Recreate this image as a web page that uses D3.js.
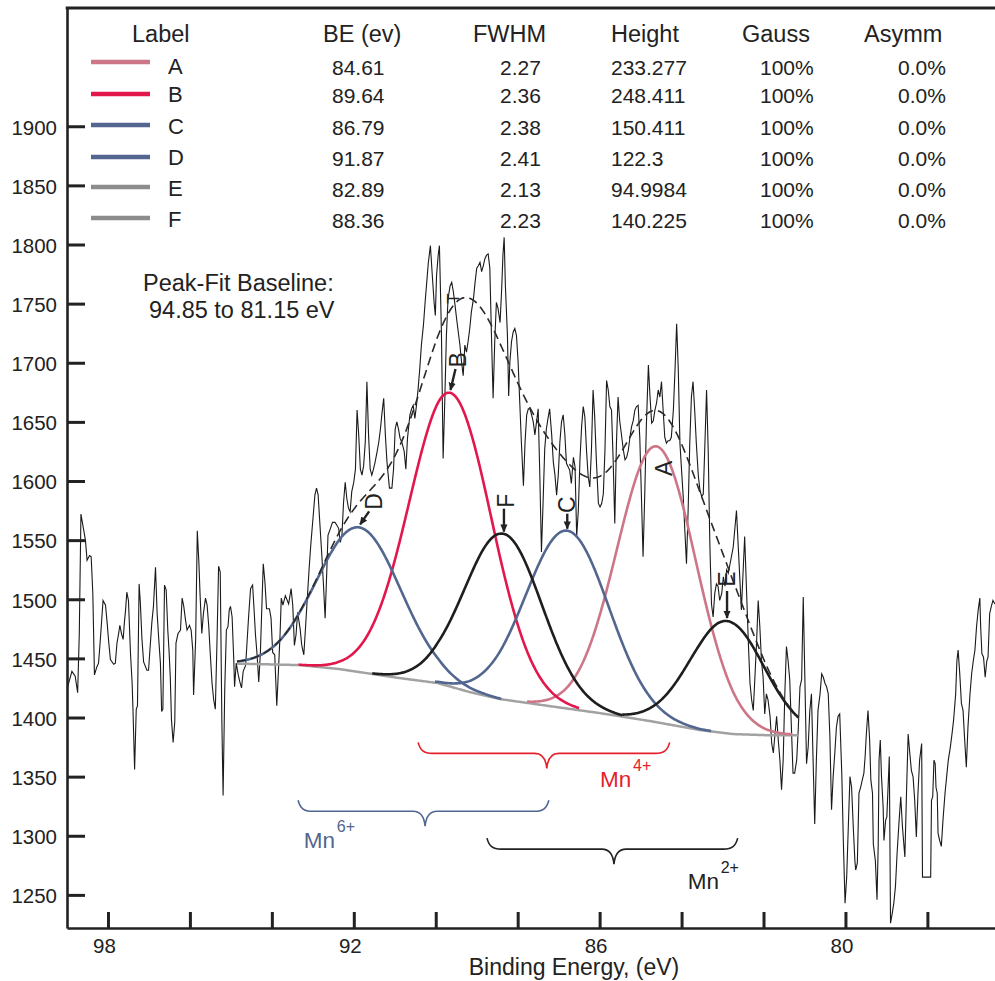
<!DOCTYPE html>
<html>
<head>
<meta charset="utf-8">
<script src="https://cdn.jsdelivr.net/npm/d3@7"></script>
<style>
body { margin: 0; background: #fff; }
svg { display: block; font-family: "Liberation Sans", Arial, sans-serif; }
</style>
</head>
<body>
<svg id="chart" width="995" height="981"></svg>
<script>
// Fitted peak table
var peakLabels = ["A", "B", "C", "D", "E", "F"];
var peakBE = [84.61, 89.64, 86.79, 91.87, 82.89, 88.36];
var peakFWHM = [2.27, 2.36, 2.38, 2.41, 2.13, 2.23];
var peakHeight = [233.277, 248.411, 150.411, 122.3, 94.9984, 140.225];
var peakGauss = ["100%", "100%", "100%", "100%", "100%", "100%"];
var peakAsymm = ["0.0%", "0.0%", "0.0%", "0.0%", "0.0%", "0.0%"];

// Energy window each component is drawn over
var peakFrom = [87.77, 93.35, 90.02, 94.85, 85.45, 91.55];
var peakTo = [81.30, 86.50, 83.28, 88.40, 81.15, 85.45];

// Shirley baseline
var baseEnergy = [94.85, 93.31, 92.34, 90.87, 89.95, 89.17, 88.43, 87.21, 85.99, 84.77, 83.55, 82.75, 81.97, 81.15];
var baseCounts = [1445.6, 1444.3, 1440.9, 1433.3, 1429.1, 1421.5, 1415.6, 1409.6, 1403.7, 1397.0, 1389.4, 1386.0, 1385.1, 1385.1];

// Axis ticks
var xTicks = [98, 96, 94, 92, 90, 88, 86, 84, 82, 80, 78];
var xTickLabels = [98, 92, 86, 80];
var yTicks = [1250, 1300, 1350, 1400, 1450, 1500, 1550, 1600, 1650, 1700, 1750, 1800, 1850, 1900];

// Raw spectrum [binding energy, counts]
var rawPoints = [
  [99.00,1424],[98.88,1439],[98.80,1435],[98.74,1421],[98.70,1471],[98.66,1572],[98.59,1558],[98.55,1550],
  [98.51,1533],[98.45,1537],[98.41,1536],[98.37,1505],[98.33,1436],[98.27,1443],[98.23,1446],[98.19,1464],
  [98.12,1499],[98.06,1495],[98.02,1480],[97.98,1463],[97.94,1449],[97.86,1445],[97.82,1446],[97.78,1463],
  [97.74,1471],[97.71,1478],[97.67,1471],[97.63,1466],[97.60,1480],[97.57,1491],[97.54,1506],[97.50,1499],
  [97.45,1454],[97.41,1429],[97.39,1407],[97.35,1356],[97.31,1407],[97.28,1410],[97.24,1513],[97.21,1497],
  [97.17,1466],[97.13,1447],[97.05,1440],[97.01,1440],[96.97,1460],[96.93,1480],[96.89,1494],[96.84,1527],
  [96.80,1488],[96.76,1466],[96.72,1446],[96.69,1405],[96.66,1407],[96.62,1512],[96.58,1508],[96.54,1474],
  [96.51,1457],[96.48,1435],[96.45,1398],[96.41,1379],[96.37,1396],[96.34,1463],[96.29,1471],[96.23,1474],
  [96.19,1501],[96.15,1494],[96.11,1483],[96.07,1474],[96.01,1478],[95.97,1474],[95.93,1457],[95.91,1419],
  [95.86,1466],[95.82,1558],[95.78,1530],[95.75,1502],[95.71,1471],[95.67,1488],[95.62,1501],[95.58,1495],
  [95.54,1477],[95.50,1452],[95.46,1429],[95.42,1415],[95.38,1407],[95.34,1463],[95.30,1528],[95.26,1523],
  [95.22,1396],[95.19,1334],[95.15,1424],[95.11,1474],[95.07,1477],[95.04,1491],[95.01,1494],[94.97,1485],
  [94.93,1449],[94.91,1426],[94.87,1446],[94.82,1436],[94.78,1430],[94.74,1425],[94.70,1439],[94.64,1444],
  [94.57,1484],[94.52,1509],[94.47,1512],[94.44,1495],[94.40,1470],[94.36,1453],[94.32,1430],[94.28,1455],
  [94.24,1498],[94.21,1530],[94.17,1515],[94.13,1492],[94.06,1492],[94.02,1484],[93.98,1455],[93.93,1453],
  [93.88,1410],[93.84,1439],[93.80,1470],[93.77,1501],[93.73,1495],[93.67,1503],[93.59,1496],[93.53,1509],
  [93.49,1495],[93.45,1461],[93.41,1470],[93.37,1489],[93.31,1475],[93.27,1461],[93.22,1453],[93.18,1475],
  [93.14,1498],[93.09,1526],[93.05,1546],[92.99,1571],[92.95,1588],[92.91,1594],[92.87,1588],[92.83,1565],
  [92.78,1537],[92.74,1512],[92.70,1484],[92.66,1523],[92.63,1554],[92.57,1560],[92.52,1565],[92.46,1565],
  [92.42,1563],[92.37,1560],[92.33,1548],[92.29,1554],[92.25,1582],[92.21,1599],[92.17,1585],[92.13,1577],
  [92.09,1574],[92.05,1591],[92.00,1599],[91.96,1610],[91.92,1660],[91.88,1639],[91.84,1610],[91.80,1605],
  [91.76,1613],[91.72,1633],[91.68,1684],[91.64,1639],[91.60,1610],[91.56,1605],[91.52,1610],[91.48,1616],
  [91.43,1625],[91.39,1633],[91.35,1644],[91.31,1658],[91.27,1670],[91.23,1639],[91.19,1616],[91.13,1594],
  [91.07,1594],[91.03,1610],[90.99,1644],[90.95,1650],[90.91,1644],[90.87,1636],[90.83,1633],[90.77,1625],
  [90.73,1610],[90.69,1636],[90.63,1656],[90.59,1661],[90.55,1664],[90.51,1653],[90.47,1664],[90.43,1678],
  [90.39,1695],[90.35,1715],[90.30,1732],[90.26,1751],[90.22,1768],[90.18,1785],[90.13,1799],[90.09,1777],
  [90.04,1751],[90.01,1740],[89.98,1774],[89.94,1791],[89.91,1799],[89.86,1723],[89.82,1619],[89.78,1667],
  [89.74,1723],[89.70,1754],[89.65,1765],[89.61,1768],[89.57,1760],[89.53,1749],[89.49,1737],[89.45,1726],
  [89.41,1715],[89.37,1701],[89.33,1689],[89.29,1715],[89.25,1709],[89.21,1718],[89.17,1729],[89.13,1743],
  [89.08,1754],[89.04,1768],[89.00,1780],[88.96,1782],[88.92,1785],[88.88,1777],[88.84,1782],[88.80,1788],
  [88.76,1791],[88.72,1792],[88.68,1780],[88.64,1723],[88.60,1670],[88.56,1718],[88.52,1751],[88.48,1746],
  [88.43,1734],[88.39,1763],[88.36,1791],[88.33,1806],[88.30,1765],[88.25,1723],[88.22,1672],[88.19,1701],
  [88.15,1718],[88.11,1726],[88.07,1729],[88.03,1723],[87.99,1701],[87.95,1667],[87.91,1633],[87.86,1596],
  [87.82,1633],[87.78,1656],[87.74,1661],[87.70,1661],[87.66,1656],[87.62,1650],[87.58,1639],[87.54,1650],
  [87.50,1661],[87.46,1605],[87.42,1540],[87.38,1582],[87.34,1627],[87.30,1644],[87.26,1653],[87.22,1661],
  [87.17,1639],[87.13,1616],[87.09,1605],[87.05,1588],[87.01,1605],[86.97,1633],[86.93,1650],[86.89,1656],
  [86.85,1640],[86.81,1615],[86.77,1612],[86.73,1609],[86.69,1598],[86.64,1620],[86.60,1612],[86.56,1553],
  [86.52,1575],[86.48,1618],[86.44,1646],[86.40,1663],[86.36,1654],[86.32,1626],[86.28,1604],[86.24,1595],
  [86.20,1626],[86.16,1677],[86.12,1654],[86.08,1618],[86.03,1581],[85.99,1578],[85.95,1581],[85.91,1589],
  [85.87,1626],[85.83,1685],[85.79,1677],[85.75,1663],[85.71,1660],[85.67,1618],[85.63,1564],[85.59,1632],
  [85.55,1671],[85.51,1651],[85.47,1640],[85.42,1626],[85.38,1618],[85.34,1620],[85.30,1626],[85.26,1637],
  [85.22,1646],[85.18,1651],[85.14,1660],[85.10,1663],[85.06,1664],[85.02,1637],[84.98,1587],[84.94,1536],
  [84.90,1587],[84.86,1646],[84.81,1698],[84.77,1671],[84.73,1649],[84.69,1651],[84.65,1660],[84.61,1666],
  [84.57,1677],[84.53,1671],[84.49,1684],[84.45,1660],[84.41,1637],[84.37,1632],[84.33,1634],[84.29,1634],
  [84.25,1637],[84.20,1660],[84.16,1694],[84.12,1733],[84.08,1694],[84.04,1632],[84.00,1609],[83.96,1587],
  [83.92,1558],[83.88,1530],[83.84,1575],[83.80,1632],[83.76,1671],[83.72,1684],[83.68,1660],[83.64,1632],
  [83.59,1604],[83.55,1592],[83.51,1587],[83.47,1589],[83.43,1632],[83.39,1677],[83.35,1626],[83.31,1547],
  [83.27,1496],[83.23,1485],[83.19,1505],[83.15,1513],[83.11,1511],[83.07,1499],[83.02,1505],[82.98,1519],
  [82.94,1511],[82.90,1525],[82.86,1522],[82.74,1544],[82.66,1575],[82.54,1491],[82.46,1553],[82.37,1463],
  [82.33,1429],[82.29,1415],[82.25,1406],[82.21,1434],[82.17,1463],[82.13,1499],[82.09,1477],[82.05,1448],
  [82.01,1434],[81.97,1403],[81.93,1420],[81.89,1415],[81.84,1401],[81.80,1378],[81.76,1370],[81.72,1386],
  [81.68,1401],[81.64,1381],[81.60,1364],[81.56,1339],[81.52,1364],[81.48,1420],[81.44,1460],[81.40,1448],
  [81.36,1432],[81.32,1392],[81.28,1353],[81.24,1353],[81.19,1364],[81.15,1392],[81.11,1426],[81.07,1432],
  [81.03,1502],[80.99,1432],[80.95,1361],[80.91,1375],[80.87,1406],[80.83,1420],[80.79,1364],[80.75,1310],
  [80.71,1364],[80.67,1406],[80.62,1420],[80.58,1437],[80.54,1434],[80.50,1429],[80.46,1426],[80.42,1420],
  [80.38,1384],[80.34,1322],[80.30,1350],[80.26,1370],[80.22,1392],[80.18,1401],[80.14,1403],[80.09,1353],
  [80.05,1293],[80.01,1243],[79.97,1265],[79.93,1308],[79.89,1350],[79.85,1341],[79.81,1308],[79.77,1279],
  [79.75,1271],[79.71,1277],[79.67,1336],[79.63,1341],[79.59,1347],[79.55,1353],[79.52,1367],[79.49,1386],
  [79.45,1406],[79.41,1381],[79.38,1347],[79.34,1336],[79.32,1293],[79.27,1279],[79.23,1246],[79.20,1293],
  [79.18,1364],[79.15,1381],[79.12,1350],[79.08,1324],[79.06,1296],[79.02,1313],[78.99,1316],[78.96,1341],
  [78.93,1367],[78.90,1226],[78.86,1234],[78.82,1243],[78.78,1257],[78.74,1285],[78.69,1313],[78.65,1333],
  [78.61,1308],[78.55,1282],[78.51,1336],[78.47,1386],[78.43,1370],[78.39,1355],[78.35,1350],[78.31,1330],
  [78.27,1299],[78.23,1336],[78.19,1364],[78.14,1378],[78.12,1265],[77.92,1265],[77.90,1330],[77.87,1333],
  [77.84,1364],[77.81,1361],[77.79,1341],[77.76,1336],[77.74,1302],[77.70,1296],[77.66,1291],[77.62,1313],
  [77.57,1336],[77.53,1350],[77.49,1364],[77.44,1375],[77.40,1386],[77.36,1398],[77.31,1420],[77.28,1448],
  [77.25,1457],[77.21,1437],[77.17,1412],[77.13,1406],[77.09,1381],[77.05,1358],[77.01,1392],[76.96,1420],
  [76.92,1437],[76.88,1448],[76.84,1457],[76.80,1477],[76.76,1491],[76.72,1501],[76.70,1477],[76.67,1454],
  [76.63,1451],[76.59,1434],[76.55,1448],[76.52,1451],[76.48,1488],[76.44,1494],[76.40,1499],[76.35,1496]
];

// Oxidation-state braces (energy span, tip, top of brace in counts)
var braceNames = ["Mn", "Mn", "Mn"];
var braceCharge = ["4+", "6+", "2+"];
var braceFrom = [90.43, 93.36, 88.75];
var braceTo = [84.29, 87.24, 82.63];
var braceTip = [87.29, 90.26, 85.65];
var braceTop = [1379, 1330, 1298];
var braceLabelE = [85.99, 93.22, 83.85];
var braceLabelC = [1341, 1289.6, 1255];

var curveColors = ["#cd7688", "#e2184d", "#52668f", "#52668f", "#1e1e1e", "#1e1e1e"];
var legendColors = ["#cd7688", "#e2184d", "#52668f", "#52668f", "#8c8c8c", "#8c8c8c"];
var braceColors = ["#e5202b", "#52668f", "#222222"];

// pixel offsets of each peak's rotated label and arrow, relative to the peak top
var labelDx = [7, 8, 0, 15, 0, 3];
var labelDy = [22, -33, -26, -26, -42, -33];
var arrowFrom = [null, [5, -24], [0, -17], [10, -16], [0, -30], [1, -25]];
var arrowTo = [null, [0, -3], [0, -2], [1, -3], [0, -3], [1, -2]];

var plotLeft = 67, plotRight = 995, plotTop = 8, plotBottom = 928;

var x = d3.scaleLinear().domain([99, 76.35]).range([plotLeft, plotRight]);
var y = d3.scaleLinear().domain([1222, 2000]).range([plotBottom, plotTop]);

var svg = d3.select("#chart");

var defs = svg.append("defs");
defs.append("clipPath").attr("id", "plotClip")
    .append("rect")
    .attr("x", plotLeft).attr("y", plotTop)
    .attr("width", plotRight - plotLeft).attr("height", plotBottom - plotTop);

defs.append("marker")
    .attr("id", "arrowHead")
    .attr("viewBox", "0 0 10 10")
    .attr("refX", 9).attr("refY", 5)
    .attr("markerWidth", 8).attr("markerHeight", 8)
    .attr("markerUnits", "userSpaceOnUse")
    .attr("orient", "auto")
    .append("path")
    .attr("d", "M0,0.5 L10,5 L0,9.5 z")
    .attr("fill", "#222");

var baseline = d3.scaleLinear().domain(baseEnergy).range(baseCounts).clamp(true);

function gauss(i, e) {
    var d = e - peakBE[i];
    var w = peakFWHM[i];
    return peakHeight[i] * Math.exp(-4 * Math.LN2 * d * d / (w * w));
}

function energySteps(from, to) {
    var steps = d3.range(from, to, -0.02);
    steps.push(to);
    return steps;
}

var line = d3.line()
    .x(function(d) { return x(d[0]); })
    .y(function(d) { return y(d[1]); });

var plot = svg.append("g").attr("clip-path", "url(#plotClip)");

// raw data
plot.append("path")
    .datum(rawPoints)
    .attr("d", line)
    .attr("fill", "none")
    .attr("stroke", "#1a1a1a")
    .attr("stroke-width", 1.1)
    .attr("stroke-linejoin", "miter");

// baseline
plot.append("path")
    .datum(energySteps(baseEnergy[0], baseEnergy[baseEnergy.length - 1]).map(function(e) {
        return [e, baseline(e)];
    }))
    .attr("d", line)
    .attr("fill", "none")
    .attr("stroke", "#a2a2a2")
    .attr("stroke-width", 2.5);

// fitted components
peakLabels.forEach(function(label, i) {
    var pts = energySteps(peakFrom[i], peakTo[i]).map(function(e) {
        return [e, baseline(e) + gauss(i, e)];
    });
    plot.append("path")
        .datum(pts)
        .attr("d", line)
        .attr("fill", "none")
        .attr("stroke", curveColors[i])
        .attr("stroke-width", 2.6);
});

// envelope
var envelope = energySteps(baseEnergy[0], baseEnergy[baseEnergy.length - 1]).map(function(e) {
    var sum = baseline(e);
    for (var i = 0; i < peakLabels.length; i++) {
        sum += gauss(i, e);
    }
    return [e, sum];
});

plot.append("path")
    .datum(envelope)
    .attr("d", line)
    .attr("fill", "none")
    .attr("stroke", "#2a2a2a")
    .attr("stroke-width", 1.6)
    .attr("stroke-dasharray", "9,5");

// little marker at the top of the envelope
var envTop = envelope.reduce(function(a, b) { return b[1] > a[1] ? b : a; });
svg.append("text")
    .attr("transform", "translate(" + (x(envTop[0]) - 12) + "," + (y(envTop[1]) + 1) + ") rotate(-90)")
    .attr("text-anchor", "middle")
    .attr("dominant-baseline", "central")
    .attr("font-size", 17)
    .attr("fill", "#222")
    .text("T");

// peak labels with arrows
peakLabels.forEach(function(label, i) {
    var px = x(peakBE[i]);
    var py = y(baseline(peakBE[i]) + peakHeight[i]);

    svg.append("text")
        .attr("transform", "translate(" + (px + labelDx[i]) + "," + (py + labelDy[i]) + ") rotate(-90)")
        .attr("text-anchor", "middle")
        .attr("dominant-baseline", "central")
        .attr("font-size", 23)
        .attr("fill", "#222")
        .text(label);

    if (arrowFrom[i]) {
        svg.append("line")
            .attr("x1", px + arrowFrom[i][0]).attr("y1", py + arrowFrom[i][1])
            .attr("x2", px + arrowTo[i][0]).attr("y2", py + arrowTo[i][1])
            .attr("stroke", "#222")
            .attr("stroke-width", 2.4)
            .attr("marker-end", "url(#arrowHead)");
    }
});

// braces
function bracePath(x0, x1, xc, yTop) {
    var yH = yTop + 11, yC = yTop + 26;
    return "M" + x0 + "," + yTop +
        " C" + (x0 + 2) + "," + (yTop + 8) + " " + (x0 + 6) + "," + yH + " " + (x0 + 14) + "," + yH +
        " L" + (xc - 12) + "," + yH +
        " C" + (xc - 5) + "," + yH + " " + (xc - 1) + "," + (yH + 4) + " " + xc + "," + yC +
        " C" + (xc + 1) + "," + (yH + 4) + " " + (xc + 5) + "," + yH + " " + (xc + 12) + "," + yH +
        " L" + (x1 - 14) + "," + yH +
        " C" + (x1 - 6) + "," + yH + " " + (x1 - 2) + "," + (yTop + 8) + " " + x1 + "," + yTop;
}

braceNames.forEach(function(name, i) {
    svg.append("path")
        .attr("d", bracePath(x(braceFrom[i]), x(braceTo[i]), x(braceTip[i]), y(braceTop[i])))
        .attr("fill", "none")
        .attr("stroke", braceColors[i])
        .attr("stroke-width", 1.6);

    var lx = x(braceLabelE[i]), ly = y(braceLabelC[i]);
    svg.append("text")
        .attr("x", lx).attr("y", ly)
        .attr("font-size", 22.5)
        .attr("fill", braceColors[i])
        .text(name);
    svg.append("text")
        .attr("x", lx + 33).attr("y", ly - 16)
        .attr("font-size", 16)
        .attr("fill", braceColors[i])
        .text(braceCharge[i]);
});

// axes
var xAxis = d3.axisBottom(x)
    .tickValues(xTicks)
    .tickSizeInner(-16)
    .tickSizeOuter(0)
    .tickPadding(10)
    .tickFormat(function(d) { return xTickLabels.indexOf(d) >= 0 ? d : ""; });

var gx = svg.append("g")
    .attr("transform", "translate(0," + plotBottom + ")")
    .call(xAxis);

gx.selectAll("text").attr("font-size", 20.5).attr("fill", "#222").attr("dx", -4)
    .attr("font-family", "Liberation Sans, Arial, sans-serif");

var yAxis = d3.axisLeft(y)
    .tickValues(yTicks)
    .tickSizeInner(-18)
    .tickSizeOuter(0)
    .tickPadding(10)
    .tickFormat(d3.format("d"));

var gy = svg.append("g")
    .attr("transform", "translate(" + plotLeft + ",0)")
    .call(yAxis);

gy.selectAll("text").attr("font-size", 20.5).attr("fill", "#222").attr("dy", "0.38em")
    .attr("font-family", "Liberation Sans, Arial, sans-serif");

[gx, gy].forEach(function(g) {
    g.select(".domain").attr("stroke", "#222").attr("stroke-width", 2.6);
    g.selectAll(".tick line").attr("stroke", "#222").attr("stroke-width", 3);
});

// top frame line
svg.append("line")
    .attr("x1", plotLeft - 1.3).attr("x2", plotRight)
    .attr("y1", plotTop).attr("y2", plotTop)
    .attr("stroke", "#222").attr("stroke-width", 3);

svg.append("text")
    .attr("x", 574).attr("y", 975)
    .attr("text-anchor", "middle")
    .attr("font-size", 23)
    .attr("fill", "#222")
    .text("Binding Energy, (eV)");

// baseline note
svg.append("text").attr("x", 143).attr("y", 291).attr("font-size", 23.5).attr("fill", "#222")
    .text("Peak-Fit Baseline:");
svg.append("text").attr("x", 149).attr("y", 318).attr("font-size", 23.5).attr("fill", "#222")
    .text("94.85 to 81.15 eV");

// table legend
var headers = ["Label", "BE (ev)", "FWHM", "Height", "Gauss", "Asymm"];
var headerX = [132, 323, 473, 611, 742, 864];
var rowY = [75, 103, 135, 166, 197, 228];
var lineY = [62, 94, 125, 157, 187, 218];

var table = svg.append("g").attr("fill", "#222");

headers.forEach(function(h, j) {
    table.append("text")
        .attr("x", headerX[j]).attr("y", 42)
        .attr("font-size", 23.5)
        .text(h);
});

peakLabels.forEach(function(label, i) {
    table.append("line")
        .attr("x1", 91).attr("x2", 150)
        .attr("y1", lineY[i]).attr("y2", lineY[i])
        .attr("stroke", legendColors[i])
        .attr("stroke-width", 4.5);

    table.append("text").attr("x", 168).attr("y", rowY[i] - 1).attr("font-size", 22).text(label);
    table.append("text").attr("x", 332).attr("y", rowY[i]).attr("font-size", 21).text(peakBE[i]);
    table.append("text").attr("x", 500).attr("y", rowY[i]).attr("font-size", 21).text(peakFWHM[i]);
    table.append("text").attr("x", 611).attr("y", rowY[i]).attr("font-size", 21).text(peakHeight[i]);
    table.append("text").attr("x", 760).attr("y", rowY[i]).attr("font-size", 21).text(peakGauss[i]);
    table.append("text").attr("x", 898).attr("y", rowY[i]).attr("font-size", 21).text(peakAsymm[i]);
});
</script>
</body>
</html>
